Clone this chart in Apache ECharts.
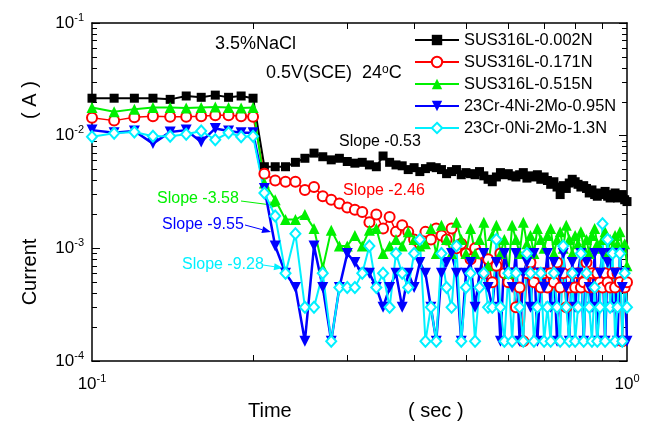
<!DOCTYPE html>
<html>
<head>
<meta charset="utf-8">
<script src="https://cdn.jsdelivr.net/npm/echarts@6/dist/echarts.min.js"></script>
<style>
    html, body { margin: 0; padding: 0; background: #fff; }
    #chart { width: 647px; height: 424px; }
</style>
</head>
<body>
<div id="chart"></div>
<script>
    // time (s)
    const time = [
        0.10,0.11,0.12,0.13,0.14,0.15,0.16,0.17,0.18,0.19,0.20,
        0.21,0.22,0.23,0.24,0.25,0.26,0.27,0.28,0.29,0.30,
        0.31,0.32,0.33,0.34,0.35,0.36,0.37,0.38,0.39,0.40,
        0.41,0.42,0.43,0.44,0.45,0.46,0.47,0.48,0.49,0.50,
        0.51,0.52,0.53,0.54,0.55,0.56,0.57,0.58,0.59,0.60,
        0.61,0.62,0.63,0.64,0.65,0.66,0.67,0.68,0.69,0.70,
        0.71,0.72,0.73,0.74,0.75,0.76,0.77,0.78,0.79,0.80,
        0.81,0.82,0.83,0.84,0.85,0.86,0.87,0.88,0.89,0.90,
        0.91,0.92,0.93,0.94,0.95,0.96,0.97,0.98,0.99,1.00
    ]
    // current (A)
    const sus0002N = [
        0.0215,0.0215,0.0215,0.0215,0.0210,0.0225,0.0219,0.0229,0.0219,0.0225,0.0215,
        0.0053,0.0053,0.0053,0.0058,0.0063,0.0070,0.0065,0.0061,0.0063,0.0059,
        0.0057,0.0058,0.0055,0.0053,0.0066,0.0058,0.0055,0.0054,0.0050,0.0052,
        0.0048,0.0051,0.0053,0.0052,0.0050,0.0046,0.0048,0.0050,0.0045,0.0047,
        0.0046,0.0045,0.0048,0.0044,0.0041,0.0039,0.0043,0.0047,0.0045,0.0046,
        0.0044,0.0043,0.0045,0.0047,0.0042,0.0044,0.0043,0.0045,0.0041,0.0043,
        0.0040,0.0037,0.0039,0.0035,0.0030,0.0036,0.0034,0.0038,0.0041,0.0039,
        0.0037,0.0035,0.0036,0.0034,0.0031,0.0033,0.0030,0.0029,0.0031,0.0030,
        0.0032,0.0029,0.0028,0.0030,0.0031,0.0028,0.0029,0.0030,0.0027,0.0026
    ]
    const sus0171N = [
        0.0144,0.0136,0.0146,0.0149,0.0147,0.0147,0.0149,0.0152,0.0152,0.0149,0.0147,
        0.0046,0.0040,0.0039,0.0039,0.0033,0.0035,0.0029,0.0027,0.0025,0.0023,
        0.0022,0.0021,0.0017,0.0020,0.0015,0.0019,0.0014,0.0016,0.0014,0.0012,
        0.0011,0.0014,0.0012,0.0015,0.0013,0.0012,0.0015,0.0010,0.0011,0.0009,
        0.0008,0.0010,0.0009,0.0006,0.0008,0.0005,0.0007,0.0009,0.0006,0.0005,
        0.0006,0.0003,0.00045,0.00015,0.0006,0.00075,0.0005,0.0006,0.00045,0.0006,
        0.00045,0.0006,0.0005,0.00075,0.00045,0.0006,0.0003,0.00045,0.0006,0.00045,
        0.0006,0.00045,0.0005,0.00075,0.00045,0.0006,0.00045,0.0006,0.0005,0.00045,
        0.0006,0.0005,0.00045,0.0006,0.00045,0.0006,0.0005,0.00015,0.00045,0.0005
    ]
    const sus0515N = [
        0.0178,0.0163,0.0172,0.0178,0.0178,0.0176,0.0178,0.0180,0.0178,0.0176,0.0178,
        0.0038,0.0027,0.0018,0.0018,0.0020,0.0015,0.00067,0.00145,0.00105,0.00105,
        0.0013,0.00105,0.00145,0.0015,0.0009,0.00105,0.0012,0.00105,0.0014,0.0012,
        0.00105,0.0011,0.0015,0.0009,0.0016,0.0012,0.0009,0.0017,0.0012,0.0009,
        0.0015,0.0009,0.0012,0.0017,0.0007,0.0013,0.0016,0.0009,0.0012,0.0006,
        0.0016,0.0012,0.0009,0.0017,0.0011,0.0013,0.0009,0.0015,0.0012,0.0010,
        0.0013,0.0015,0.0009,0.0012,0.0014,0.0010,0.0016,0.0012,0.0009,0.0013,
        0.0011,0.0014,0.0010,0.0012,0.0009,0.0013,0.0015,0.0011,0.0010,0.0012,
        0.0014,0.0009,0.0012,0.0010,0.0013,0.0011,0.0014,0.0010,0.0011,0.0007
    ]
    const cr23ni4 = [
        0.0112,0.0106,0.0110,0.0085,0.0108,0.0112,0.0088,0.0116,0.0110,0.0106,0.0106,
        0.0034,0.00105,0.0006,0.00045,0.00015,0.00105,0.00045,0.00015,0.00045,0.0009,
        0.00075,0.0006,0.0006,0.00045,0.0003,0.00045,0.0006,0.0003,0.0006,0.00045,
        0.00075,0.0006,0.0003,0.00015,0.0006,0.00075,0.0009,0.0006,0.00015,0.0006,
        0.00075,0.0003,0.0006,0.0009,0.00045,0.0003,0.00075,0.00015,0.0009,0.0006,
        0.00045,0.0009,0.00015,0.0006,0.00075,0.0003,0.0009,0.00015,0.0006,0.00045,
        0.0009,0.0003,0.00075,0.00015,0.0006,0.0009,0.00045,0.00015,0.00075,0.0003,
        0.0006,0.0009,0.00015,0.00075,0.00045,0.0003,0.0009,0.00015,0.0006,0.0009,
        0.00015,0.00075,0.0009,0.0003,0.0006,0.00015,0.0009,0.00045,0.0006,0.00015
    ]
    const cr23ni0 = [
        0.0098,0.0105,0.0108,0.0099,0.0099,0.0103,0.0110,0.0092,0.0106,0.0098,0.0099,
        0.0031,0.00194,0.0006,0.00135,0.0003,0.0003,0.0006,0.00015,0.00045,0.00045,
        0.00045,0.0006,0.00105,0.00045,0.0006,0.0003,0.0009,0.0006,0.00045,0.0009,
        0.0012,0.00015,0.0003,0.00015,0.0009,0.00045,0.0003,0.00105,0.00015,0.00045,
        0.0006,0.00015,0.00045,0.0006,0.0003,0.0003,0.0012,0.0003,0.00015,0.0006,
        0.00015,0.0006,0.0003,0.00015,0.0009,0.0006,0.00015,0.0003,0.0006,0.00015,
        0.0003,0.00015,0.0006,0.0003,0.00015,0.00105,0.0003,0.00015,0.0006,0.00015,
        0.0003,0.0009,0.00015,0.0006,0.0003,0.00015,0.00045,0.00015,0.0003,0.00165,
        0.00015,0.0012,0.0003,0.0009,0.00015,0.0003,0.0009,0.00015,0.0006,0.0003
    ]
    const seriesNames = ['SUS316L-0.002N','SUS316L-0.171N','SUS316L-0.515N','23Cr-4Ni-2Mo-0.95N','23Cr-0Ni-2Mo-1.3N']
    // minor ticks (2..9 of each decade)
    const xMinorTicks = [0.2,0.3,0.4,0.5,0.6,0.7,0.8,0.9]
    const yMinorTicks = [
        0.0002,0.0003,0.0004,0.0005,0.0006,0.0007,0.0008,0.0009,
        0.002,0.003,0.004,0.005,0.006,0.007,0.008,0.009,
        0.02,0.03,0.04,0.05,0.06,0.07,0.08,0.09
    ]

    const FONT = '"Liberation Sans", Arial, sans-serif'
    const GREEN = '#00f000'
    const CYAN = '#00f0ff'
    const BLUE = '#0000ff'
    const RED = '#ff0000'

    const chartInstance = echarts.init(document.getElementById('chart'))

    function pairs(vals){
        return time.map((t, i) => [t, vals[i]])
    }
    function powLabel(v){
        const e = Math.round(Math.log10(v))
        return '{b|10}{sup|' + e + '}'
    }
    const labelRich = {
        b: { fontSize: 17, fontFamily: FONT, color: '#000', lineHeight: 22 },
        sup: { fontSize: 11, fontFamily: FONT, color: '#000', lineHeight: 12, verticalAlign: 'top' }
    }
    const frameLine = { show: true, onZero: false, lineStyle: { color: '#000', width: 1.5 } }
    function minorAxis(pos, min, max, ticks, len){
        return {
            type: 'value', position: pos, min: min, max: max,
            axisLine: { show: pos === 'top', onZero: false, lineStyle: { color: '#000', width: 1.5 } },
            axisTick: { show: true, inside: true, length: len, customValues: ticks.map(Math.log10), lineStyle: { color: '#000', width: 1 } },
            axisLabel: { show: false },
            splitLine: { show: false }
        }
    }
    function arrow(x1, y1, x2, y2, color){
        const a = Math.atan2(y2 - y1, x2 - x1)
        const L = 9, W = 3.5
        const bx = x2 - L * Math.cos(a), by = y2 - L * Math.sin(a)
        return [
            { type: 'line', shape: { x1: x1, y1: y1, x2: bx, y2: by }, style: { stroke: color, lineWidth: 1 } },
            { type: 'polygon', shape: { points: [[x2, y2], [bx - W * Math.sin(a), by + W * Math.cos(a)], [bx + W * Math.sin(a), by - W * Math.cos(a)]] }, style: { fill: color } }
        ]
    }
    function txt(x, y, text, color, size, extra){
        return Object.assign({
            type: 'text', x: x, y: y,
            style: { text: text, fill: color, fontSize: size, fontFamily: FONT, textAlign: 'left', textVerticalAlign: 'middle' }
        }, extra || {})
    }

    const option = {
        animation: false,
        backgroundColor: '#fff',
        grid: { left: 92, right: 20, top: 23, bottom: 63, containLabel: false },
        legend: {
            orient: 'vertical', left: 414, top: 32, padding: 0,
            itemWidth: 44, itemHeight: 13, itemGap: 6,
            textStyle: { fontSize: 16.4, fontFamily: FONT, color: '#000' },
            data: seriesNames
        },
        xAxis: [
            {
                type: 'log', logBase: 10, min: 0.1, max: 1, position: 'bottom',
                axisLine: frameLine,
                axisTick: { show: false },
                splitLine: { show: false },
                axisLabel: { formatter: powLabel, rich: labelRich, margin: 12 }
            },
            minorAxis('bottom', -1, 0, xMinorTicks, 6),
            minorAxis('top', -1, 0, xMinorTicks, 6)
        ],
        yAxis: [
            {
                type: 'log', logBase: 10, min: 0.0001, max: 0.1, position: 'left',
                axisLine: frameLine,
                axisTick: { show: true, inside: true, length: 8, lineStyle: { color: '#000', width: 1 } },
                splitLine: { show: false },
                axisLabel: { formatter: powLabel, rich: labelRich, margin: 8 }
            },
            minorAxis('left', -4, -1, yMinorTicks, 5),
            {
                type: 'log', logBase: 10, min: 0.0001, max: 0.1, position: 'right',
                axisLine: frameLine,
                axisTick: { show: true, inside: true, length: 8, lineStyle: { color: '#000', width: 1 } },
                splitLine: { show: false },
                axisLabel: { show: false }
            },
            minorAxis('right', -4, -1, yMinorTicks, 5)
        ],
        series: [
            {
                name: seriesNames[0], type: 'line', data: pairs(sus0002N),
                symbol: 'rect', symbolSize: 9,
                lineStyle: { color: '#000', width: 2 }, itemStyle: { color: '#000' }
            },
            {
                name: seriesNames[1], type: 'line', data: pairs(sus0171N),
                symbol: 'emptyCircle', symbolSize: 10,
                lineStyle: { color: RED, width: 1.5 }, itemStyle: { color: RED, borderWidth: 1.2 }
            },
            {
                name: seriesNames[2], type: 'line', data: pairs(sus0515N),
                symbol: 'triangle', symbolSize: 11,
                lineStyle: { color: GREEN, width: 2 }, itemStyle: { color: GREEN }
            },
            {
                name: seriesNames[3], type: 'line', data: pairs(cr23ni4),
                symbol: 'triangle', symbolSize: 11, symbolRotate: 180,
                lineStyle: { color: BLUE, width: 2.5 }, itemStyle: { color: BLUE }
            },
            {
                name: seriesNames[4], type: 'line', data: pairs(cr23ni0),
                symbol: 'emptyDiamond', symbolSize: [10, 11],
                lineStyle: { color: CYAN, width: 2 }, itemStyle: { color: CYAN, borderWidth: 1.5 }
            }
        ],
        graphic: [
            txt(215, 44, '3.5%NaCl', '#000', 18),
            txt(266, 73, '0.5V(SCE)  24{sup|o}C', '#000', 18, {
                style: {
                    text: '0.5V(SCE)  24{sup|o}C', fill: '#000', fontSize: 18, fontFamily: FONT,
                    textAlign: 'left', textVerticalAlign: 'middle',
                    rich: { sup: { fontSize: 12, fontFamily: FONT, fill: '#000', verticalAlign: 'top', lineHeight: 12 } }
                }
            }),
            txt(339, 142, 'Slope -0.53', '#000', 16),
            txt(343, 191, 'Slope -2.46', RED, 16),
            txt(157, 199, 'Slope -3.58', GREEN, 16),
            txt(162, 225, 'Slope -9.55', BLUE, 16),
            txt(182, 265, 'Slope -9.28', CYAN, 16),
            ...arrow(241, 201, 279, 206, GREEN),
            ...arrow(245, 225, 271, 232, BLUE),
            ...arrow(263, 265, 283, 268, CYAN),
            txt(30, 272, 'Current', '#000', 20, { rotation: Math.PI / 2, style: { text: 'Current', fill: '#000', fontSize: 20, fontFamily: FONT, textAlign: 'center', textVerticalAlign: 'middle' } }),
            txt(30, 100, '( A )', '#000', 20, { rotation: Math.PI / 2, style: { text: '( A )', fill: '#000', fontSize: 20, fontFamily: FONT, textAlign: 'center', textVerticalAlign: 'middle' } }),
            txt(248, 411, 'Time', '#000', 20),
            txt(408, 411, '( sec )', '#000', 20)
        ]
    }
    chartInstance.setOption(option)
</script>
</body>
</html>
